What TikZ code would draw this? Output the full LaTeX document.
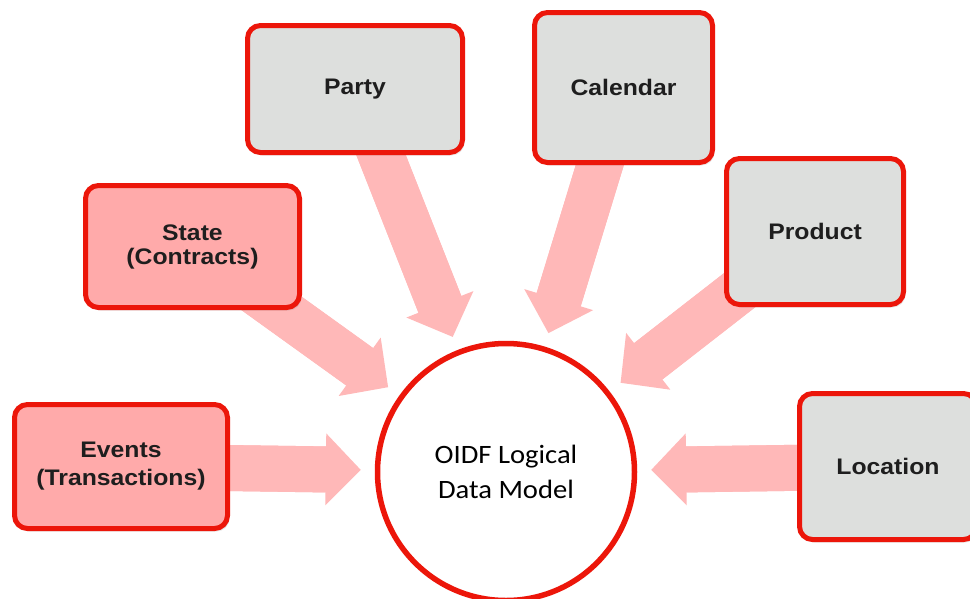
\documentclass[tikz,border=0pt]{standalone}
\usepackage{fontspec}
\newfontfamily\boxfont[FakeStretch=1.1]{Liberation Sans}
\newfontfamily\circfont[FakeStretch=1.08]{Carlito}
\usetikzlibrary{arrows.meta,shadows}
\pgfdeclarelayer{background}
\pgfsetlayers{background,main}
\definecolor{bred}{RGB}{236,22,10}
\definecolor{bgray}{RGB}{221,223,221}
\definecolor{bpink}{RGB}{255,170,170}
\definecolor{apink}{RGB}{255,184,184}
\definecolor{txt}{RGB}{30,30,30}
\begin{document}
\begin{tikzpicture}[x=1pt,y=-1pt,
  box/.style={draw=bred, line width=5pt, rounded corners=13pt, text=txt,
    font=\boxfont\bfseries\fontsize{22.5}{26}\selectfont, align=center, inner sep=0pt,
    drop shadow={opacity=0.18,shadow xshift=2pt,shadow yshift=-3pt}},
  graybox/.style={box, fill=bgray},
  pinkbox/.style={box, fill=bpink},
  hub/.style={circle, draw=bred, line width=5.5pt, fill=white, minimum size=257pt,
    inner sep=0pt, align=center, text=black, font=\circfont\fontsize{26.5}{35}\selectfont},
  flow/.style={draw=apink, line width=46pt,
    -{Triangle[width=72pt,length=35pt,line width=0pt]},
    shorten >=14pt, shorten <=-40pt},
  flowshaft/.style={draw=apink, line width=46pt, shorten >=40pt, shorten <=-40pt},
]
\useasboundingbox (0,0) rectangle (970,598);

\node[graybox, minimum width=215pt, minimum height=127pt] (party) at (355,89) {Party};
\node[graybox, minimum width=178pt, minimum height=150pt] (calendar) at (623.5,87.5) {Calendar};
\node[pinkbox, minimum width=214pt, minimum height=122pt,
      font=\boxfont\bfseries\fontsize{22.5}{24}\selectfont] (state) at (192.5,246.5) {State\\(Contracts)};
\node[graybox, minimum width=177pt, minimum height=146pt] (product) at (815,231.5) {Product};
\node[graybox, minimum width=177pt, minimum height=146pt] (location) at (888,466.5) {Location};
\node[pinkbox, minimum width=213pt, minimum height=124pt,
      font=\boxfont\bfseries\fontsize{22.5}{28}\selectfont] (events) at (121,466.5) {Events\\(Transactions)};
\node[hub] (circ) at (506,472) {OIDF Logical\\Data Model};

\begin{pgfonlayer}{background}
  \fill[white] (0,0) rectangle (970,598);
  \foreach \n in {party,calendar,state,product,location,events}{
    \draw[flow] (\n) -- (circ);
    \draw[flowshaft] (\n) -- (circ);
  }
\end{pgfonlayer}
\end{tikzpicture}
\end{document}
